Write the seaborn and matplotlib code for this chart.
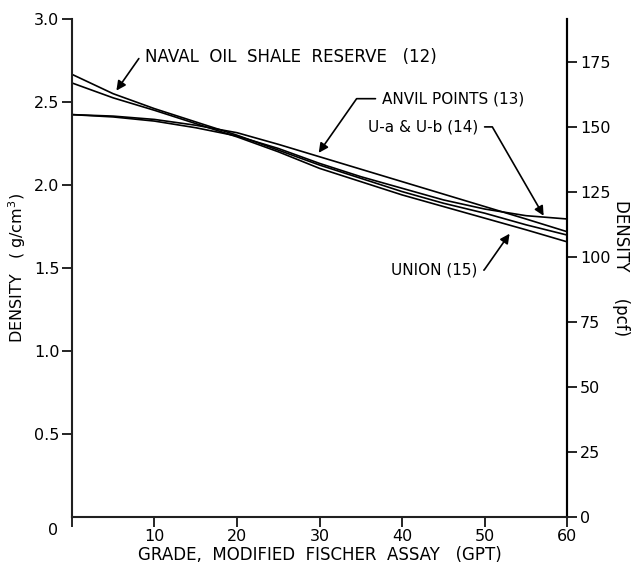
import matplotlib
matplotlib.use("Agg")
import matplotlib.pyplot as plt
import seaborn as sns
import pandas as pd

sns.set_theme(style="white")
plt.rcParams['font.family'] = ['DejaVu Sans']
plt.rcParams['text.color'] = 'black'
plt.rcParams['axes.labelcolor'] = 'black'

grade = [0, 5, 10, 15, 20, 25, 30, 35, 40, 45, 50, 55, 60]
naval = [2.667, 2.55, 2.46, 2.38, 2.30, 2.21, 2.12, 2.04, 1.96, 1.89, 1.83, 1.76, 1.698]
union = [2.615, 2.525, 2.45, 2.37, 2.29, 2.20, 2.10, 2.02, 1.94, 1.87, 1.80, 1.73, 1.657]
anvil = [2.424, 2.415, 2.395, 2.36, 2.315, 2.245, 2.17, 2.095, 2.02, 1.945, 1.87, 1.795, 1.718]
ua_ub = [2.424, 2.41, 2.385, 2.345, 2.295, 2.22, 2.13, 2.05, 1.98, 1.91, 1.855, 1.815, 1.795]

x_ticks = [0, 10, 20, 30, 40, 50, 60]
y_ticks = [0.5, 1.0, 1.5, 2.0, 2.5, 3.0]
pcf_ticks = [0, 25, 50, 75, 100, 125, 150, 175]
PCF_PER_GCC = 63.8

series = {
    "NAVAL OIL SHALE RESERVE (12)": naval,
    "ANVIL POINTS (13)": anvil,
    "U-a & U-b (14)": ua_ub,
    "UNION (15)": union,
}
df = pd.concat([pd.DataFrame({"grade": grade, "density": v, "series": k})
                for k, v in series.items()], ignore_index=True)

fig = plt.figure(figsize=(6.36, 5.68), dpi=100)
ax = fig.add_axes([0.113, 0.090, 0.779, 0.8765])

sns.lineplot(data=df, x="grade", y="density", hue="series",
             palette=["black"] * 4, legend=False, sort=False,
             linewidth=1.2, ax=ax)

ax.set_xlim(0, 60)
ax.set_ylim(0, 3.0)
ax.set_xticks(x_ticks)
ax.set_xticklabels([""] + [str(t) for t in x_ticks[1:]])
ax.set_yticks(y_ticks)
ax.set_yticklabels([f"{t:.1f}" for t in y_ticks])
for s in ["left", "bottom", "right"]:
    ax.spines[s].set_color("black")
    ax.spines[s].set_linewidth(1.5)
ax.spines["top"].set_visible(False)
ax.tick_params(axis="both", direction="out", length=7, width=1.2,
               colors="black", labelsize=11.5, left=True, bottom=True, pad=2)
ax.set_xlabel("GRADE,  MODIFIED  FISCHER  ASSAY   (GPT)", fontsize=12, labelpad=1)
ax.set_ylabel("DENSITY   ( g/cm$^3$)", fontsize=11.5, labelpad=4)
ax.text(-0.028, -0.012, "0", transform=ax.transAxes, ha="right", va="top", fontsize=11.5)

ax2 = ax.twinx()
ax2.set_ylim(0, 3.0 * PCF_PER_GCC)
ax2.set_yticks(pcf_ticks)
ax2.set_yticklabels([str(t) for t in pcf_ticks])
ax2.spines["top"].set_visible(False)
ax2.spines["right"].set_linewidth(1.5)
ax2.spines["right"].set_color("black")
ax2.tick_params(axis="y", direction="out", length=7, width=1.2,
                colors="black", labelsize=11.5, right=True, pad=2)
ax2.set_ylabel("DENSITY     (pcf)", fontsize=12, rotation=-90, labelpad=14)
ax2.grid(False)
ax.grid(False)

arrow = dict(arrowstyle="-|>", color="black", lw=1.2, mutation_scale=14)
ax.annotate("NAVAL  OIL  SHALE  RESERVE   (12)", xy=(5.2, 2.555), xytext=(8.8, 2.77),
            ha="left", va="center", fontsize=12,
            arrowprops=dict(arrow, connectionstyle="angle,angleA=0,angleB=55,rad=0"))
ax.annotate("ANVIL POINTS (13)", xy=(29.7, 2.18), xytext=(37.5, 2.52),
            ha="left", va="center", fontsize=11,
            arrowprops=dict(arrow, connectionstyle="angle,angleA=0,angleB=55,rad=0"))
ax.annotate("U-a & U-b (14)", xy=(57.3, 1.80), xytext=(35.9, 2.35),
            ha="left", va="center", fontsize=11,
            arrowprops=dict(arrow, connectionstyle="angle,angleA=0,angleB=120,rad=0"))
ax.annotate("UNION (15)", xy=(53.2, 1.72), xytext=(38.7, 1.487),
            ha="left", va="center", fontsize=11,
            arrowprops=dict(arrow, connectionstyle="angle,angleA=0,angleB=-125,rad=0"))

fig.savefig("out.png", dpi=100)
